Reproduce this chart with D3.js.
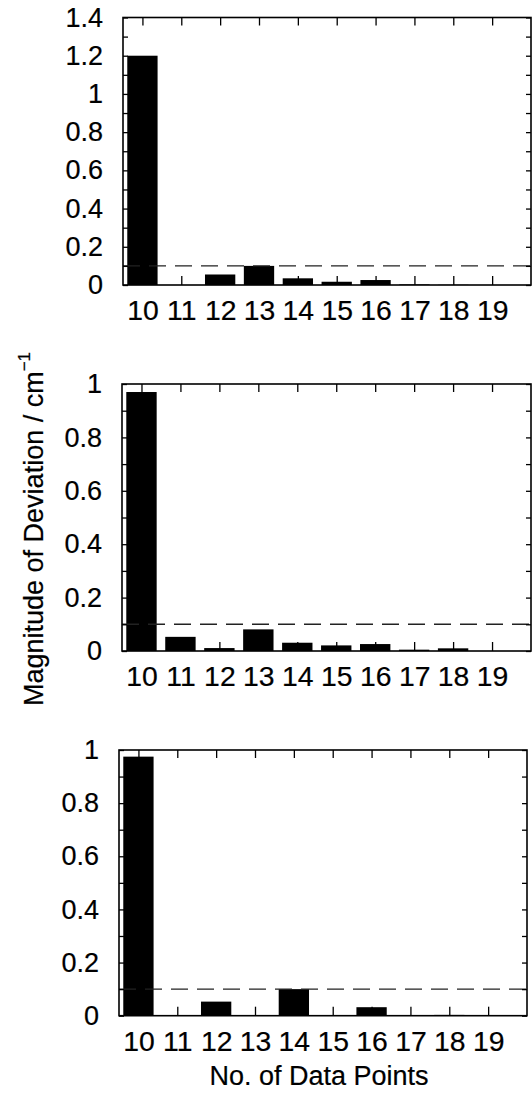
<!DOCTYPE html>
<html>
<head>
    <meta charset="UTF-8">
    <script src="https://d3js.org/d3.v7.min.js"></script>
    <style>
        body { margin: 0; background: white; }
        svg text { font-family: "Liberation Sans", Arial, sans-serif; fill: black; stroke: black; stroke-width: 0.2px; }
        .axis path.domain { display: none; }
        .axis line { stroke: black; stroke-width: 1.3px; }
        .axis text { font-size: 27px; }
    </style>
</head>
<body>
    <div id="viz"></div>
    <script>
        // number of data points on the x axis
        const categories = [10, 11, 12, 13, 14, 15, 16, 17, 18, 19];

        // magnitude of deviation for the three panels (cm^-1)
        const topValues = [1.2, 0, 0.055, 0.1, 0.035, 0.017, 0.026, 0.003, 0.001, 0];
        const midValues = [0.97, 0.053, 0.011, 0.081, 0.031, 0.021, 0.026, 0.005, 0.01, 0];
        const botValues = [0.975, 0, 0.053, 0, 0.1, 0.001, 0.032, 0.001, 0.003, 0];

        // dashed threshold line
        const threshold = 0.1;

        // y tick labels
        const topTickLabels = [0, 0.2, 0.4, 0.6, 0.8, 1, 1.2, 1.4];
        const otherTickLabels = [0, 0.2, 0.4, 0.6, 0.8, 1];

        const width = 532;
        const height = 1098;

        const panels = [
            { values: topValues, ymax: 1.4, labels: topTickLabels, left: 123, right: 531, top: 17.5, bottom: 285 },
            { values: midValues, ymax: 1.0, labels: otherTickLabels, left: 122, right: 531, top: 384, bottom: 651 },
            { values: botValues, ymax: 1.0, labels: otherTickLabels, left: 119, right: 527, top: 750, bottom: 1015.7 }
        ];

        const svg = d3.select('#viz')
            .append('svg')
            .attr('width', width)
            .attr('height', height);

        const barWidth = 0.78;

        panels.forEach(p => {
            const x = d3.scaleLinear().domain([9.5, 20]).range([p.left, p.right]);
            const y = d3.scaleLinear().domain([0, p.ymax]).range([p.bottom, p.top]);

            const g = svg.append('g');
            const data = categories.map((c, i) => ({ cat: c, value: p.values[i] }));

            // bars
            g.selectAll('.bar')
                .data(data)
                .enter()
                .append('rect')
                .attr('class', 'bar')
                .attr('x', d => x(d.cat - barWidth / 2))
                .attr('width', x(barWidth) - x(0))
                .attr('y', d => y(d.value))
                .attr('height', d => y(0) - y(d.value))
                .attr('fill', 'black');

            // dashed threshold line
            g.append('line')
                .attr('x1', x(9.5))
                .attr('x2', x(20))
                .attr('y1', y(threshold))
                .attr('y2', y(threshold))
                .attr('stroke', '#222')
                .attr('stroke-width', 1.4)
                .attr('stroke-dasharray', '17,9');

            // minor y ticks every 0.1, labels every 0.2
            const yTicks = d3.range(0, Math.round(p.ymax * 10) + 1).map(i => i / 10);
            const fmt = v => {
                const hit = p.labels.find(l => Math.abs(l - v) < 1e-6);
                return hit === undefined ? '' : String(hit);
            };

            g.append('g')
                .attr('class', 'axis')
                .attr('transform', `translate(${p.left},0)`)
                .call(d3.axisLeft(y).tickValues(yTicks).tickSize(-5).tickPadding(20).tickFormat(fmt));

            g.append('g')
                .attr('class', 'axis')
                .attr('transform', `translate(${p.right},0)`)
                .call(d3.axisRight(y).tickValues(yTicks).tickSize(-5).tickFormat(''));

            // x ticks top and bottom, pointing inward
            g.append('g')
                .attr('class', 'axis')
                .attr('transform', `translate(0,${p.bottom})`)
                .call(d3.axisBottom(x).tickValues(categories).tickSize(-9).tickPadding(16).tickFormat(d3.format('d')))
                .selectAll('text')
                .attr('transform', 'scale(1.05,1)');

            g.append('g')
                .attr('class', 'axis')
                .attr('transform', `translate(0,${p.top})`)
                .call(d3.axisTop(x).tickValues(categories).tickSize(-8).tickFormat(''));

            // frame
            g.append('rect')
                .attr('x', p.left)
                .attr('y', p.top)
                .attr('width', p.right - p.left)
                .attr('height', p.bottom - p.top)
                .attr('fill', 'none')
                .attr('stroke', 'black')
                .attr('stroke-width', 1.6);
        });

        // y axis title
        const ytitle = svg.append('text')
            .attr('transform', 'translate(43,706) rotate(-90)')
            .style('font-size', '27px');
        ytitle.append('tspan').text('Magnitude of Deviation / cm');
        ytitle.append('tspan').text('\u22121').style('font-size', '17px').attr('dy', -13);

        // x axis title
        svg.append('text')
            .attr('x', 319)
            .attr('y', 1085)
            .attr('text-anchor', 'middle')
            .style('font-size', '27px')
            .text('No. of Data Points');
    </script>
</body>
</html>
